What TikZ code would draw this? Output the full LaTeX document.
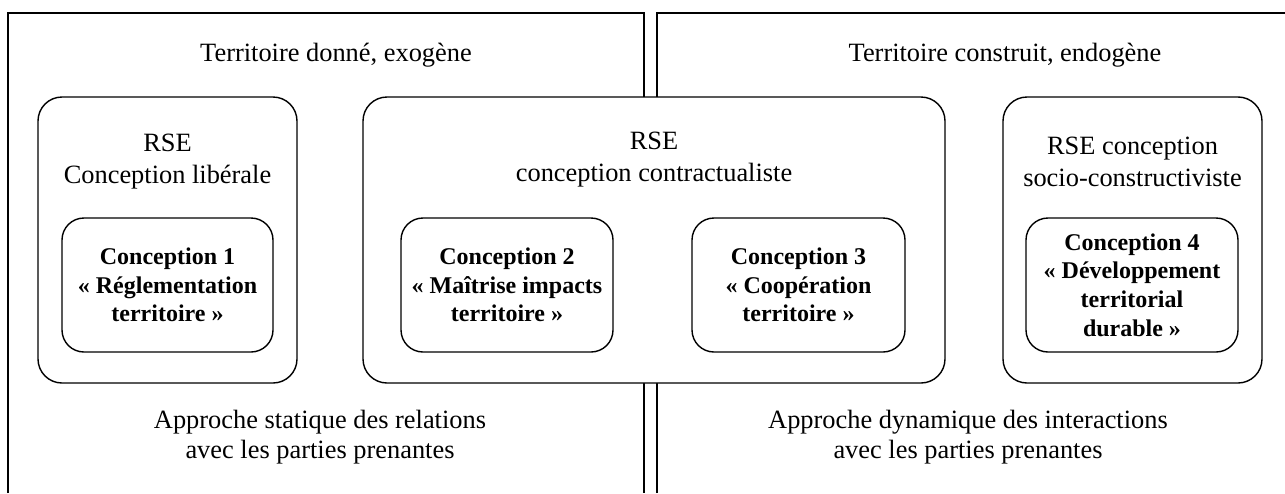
\documentclass[tikz,border=0pt]{standalone}
\usepackage{fontspec}
\setmainfont{Liberation Serif}
\tikzset{
  panel/.style={line width=0.8pt},
  outerbox/.style={draw, fill=white, line width=0.7pt, rounded corners=12pt, minimum height=143pt},
  innerbox/.style={draw, line width=0.7pt, rounded corners=11pt, minimum height=67pt,
    align=center, inner sep=0pt, font=\fontsize{12}{14.3}\selectfont\bfseries},
  boxtitle/.style={align=center, font=\fontsize{13.2}{16}\selectfont},
  caption/.style={align=center, font=\fontsize{13.2}{15}\selectfont}
}

\begin{document}
\begin{tikzpicture}[x=0.5pt,y=-0.5pt]
  \useasboundingbox (0,0) rectangle (1285,493);
  \draw[panel] (8,493) -- (8,13) -- (644,13) -- (644,493);
  \draw[panel] (657,493) -- (657,13) -- (1285,13);
  \node[caption] (exo) at (336,55) {Territoire donné, exogène};
  \node[caption] (endo) at (1005,55) {Territoire construit, endogène};

  \node[outerbox, minimum width=129.5pt] (liberale) at (167.5,240) {};
  \node[outerbox, minimum width=291pt] (contract) at (654,240) {};
  \node[outerbox, minimum width=129.5pt] (socio) at (1132.5,240) {};

  \node[boxtitle] (liberaleT) at (167.5,162) {RSE\\Conception libérale};
  \node[boxtitle] (contractT) at (654,160) {RSE\\conception contractualiste};
  \node[boxtitle] (socioT) at (1132.5,162) {RSE conception\\socio-constructiviste};

  \node[innerbox, minimum width=105.5pt] (conc1) at (167.5,285) {Conception 1\\« Réglementation\\territoire »};
  \node[innerbox, minimum width=106pt] (conc2) at (507,285) {Conception 2\\« Maîtrise impacts\\territoire »};
  \node[innerbox, minimum width=106.5pt] (conc3) at (798.5,285) {Conception 3\\« Coopération\\territoire »};
  \node[innerbox, minimum width=106pt] (conc4) at (1132,285) {Conception 4\\« Développement\\territorial\\durable »};

  \node[caption] (statique) at (320,437) {Approche statique des relations\\avec les parties prenantes};
  \node[caption] (dynamique) at (968,437) {Approche dynamique des interactions\\avec les parties prenantes};
\end{tikzpicture}
\end{document}
